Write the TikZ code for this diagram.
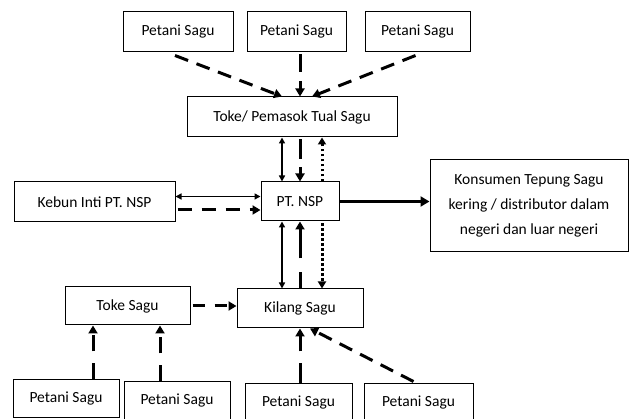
\documentclass[tikz,border=0pt]{standalone}
\usepackage{fontspec}
\setmainfont{Carlito}
\usetikzlibrary{arrows.meta,calc}
\begin{document}
\begin{tikzpicture}[x=1pt,y=-1pt,
  box/.style={draw, line width=1pt, minimum height=40pt, inner sep=2pt, align=center, font=\fontsize{15.5}{25}\selectfont},
  thinarr/.style={line width=1.5pt, {Triangle[length=6pt,width=6pt]}-{Triangle[length=6pt,width=6pt]}},
  dasharr/.style={line width=3pt, dash pattern=on 14pt off 9pt, -{Triangle[length=8pt,width=9pt]}},
  dotarr/.style={line width=3pt, dash pattern=on 2.5pt off 2.5pt, -{Triangle[length=7pt,width=8pt]}},
  bigarr/.style={line width=3.2pt, -{Triangle[length=9pt,width=10pt]}}
]
\useasboundingbox (0,0) rectangle (629,419);
% top row
\node[box, minimum width=110pt] (p1) at (178,32) {Petani Sagu};
\node[box, minimum width=99pt] (p2) at (296.5,32) {Petani Sagu};
\node[box, minimum width=105pt] (p3) at (417.5,32) {Petani Sagu};
\node[box, minimum width=210pt] (toke) at (292,117) {Toke/ Pemasok Tual Sagu};
% middle row
\node[box, minimum width=161pt] (kebun) at (94.5,202) {Kebun Inti PT. NSP};
\node[box, minimum width=78pt, minimum height=39pt] (nsp) at (300,201.5) {PT. NSP};
\node[box, minimum width=198pt, minimum height=92pt] (kons) at (529,206) {Konsumen Tepung Sagu\\kering / distributor dalam\\negeri dan luar negeri};
% lower row
\node[box, minimum width=125pt, minimum height=38pt] (tokes) at (127.5,306) {Toke Sagu};
\node[box, minimum width=126pt, minimum height=39pt] (kilang) at (300,308.5) {Kilang Sagu};
% bottom row
\node[box, minimum width=106pt, minimum height=37pt] (b1) at (66,398.5) {Petani Sagu};
\node[box, minimum width=106pt, minimum height=37pt] (b2) at (177,400.5) {Petani Sagu};
\node[box, minimum width=107pt, minimum height=37pt] (b3) at (298.5,402.5) {Petani Sagu};
\node[box, minimum width=109pt, minimum height=37pt] (b4) at (418.5,402.5) {Petani Sagu};

% top arrows
\draw[dasharr] ([xshift=-3pt,yshift=-3pt]p1.south) -- ([xshift=-10pt]toke.north);
\draw[dasharr, dash pattern=on 18pt off 9pt] ([xshift=3.5pt,yshift=-2pt]p2.south) -- ([xshift=8pt]toke.north);
\draw[dasharr] ([xshift=-2pt,yshift=-3pt]p3.south) -- ([xshift=20pt]toke.north);

% toke <-> nsp
\draw[thinarr] ([xshift=-18pt]nsp.north |- toke.south) -- ([xshift=-18pt]nsp.north);
\draw[dasharr, dash pattern=on 20pt off 8pt] ([yshift=-2pt]nsp.north |- toke.south) -- (nsp.north);
\draw[dotarr] ([xshift=22pt]nsp.north) -- ([xshift=22pt]nsp.north |- toke.south);

% kebun <-> nsp
\draw[thinarr] ([yshift=5.5pt]kebun.east) -- ([yshift=5.5pt]kebun.east -| nsp.west);
\draw[dasharr, dash pattern=on 14pt off 10pt] ([yshift=-8pt,xshift=2pt]kebun.east) -- ([yshift=-8pt]kebun.east -| nsp.west);

% nsp -> konsumen
\draw[bigarr] (nsp.east) -- (nsp.east -| kons.west);

% nsp <-> kilang
\draw[thinarr] ([xshift=-18pt]nsp.south) -- ([xshift=-18pt]nsp.south |- kilang.north);
\draw[dasharr, dash pattern=on 16pt off 14pt on 80pt off 1pt] (kilang.north) -- (nsp.south);
\draw[dotarr] ([xshift=22pt,yshift=-2pt]nsp.south) -- ([xshift=22pt]nsp.south |- kilang.north);

% toke sagu -> kilang
\draw[dasharr, dash pattern=on 12pt off 10pt] ([xshift=2pt]tokes.east) -- (tokes.east -| kilang.west);

% bottom arrows
\draw[dasharr, dash pattern=on 16pt off 12pt] ([xshift=27pt]b1.north) -- ([xshift=27pt]b1.north |- tokes.south);
\draw[dasharr, dash pattern=on 16pt off 12pt] ([xshift=-17pt]b2.north) -- ([xshift=-17pt]b2.north |- tokes.south);
\draw[dasharr, dash pattern=on 20pt off 12pt] ([xshift=1.5pt]b3.north) -- ([xshift=1.5pt]b3.north |- kilang.south);
\draw[dasharr, dash pattern=on 14pt off 9pt] ([xshift=-5pt,yshift=2pt]b4.north) -- ([xshift=10pt]kilang.south);
\end{tikzpicture}
\end{document}
